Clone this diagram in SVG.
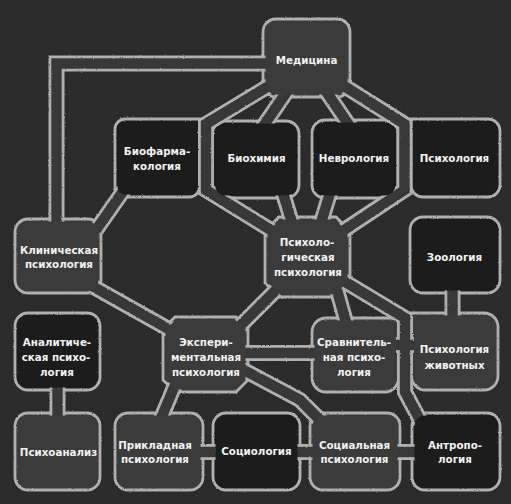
<svg xmlns="http://www.w3.org/2000/svg" xmlns:xlink="http://www.w3.org/1999/xlink" width="511" height="504" viewBox="0 0 511 504">
<style>
.bg{fill:#2a2a2a}
.light{fill:#3b3b3b;stroke:#b0b0b0;stroke-width:2.8}
.dark{fill:#1f1f1f;stroke:#b0b0b0;stroke-width:2.8}
.sh{filter:url(#chalk)}
.t{font-family:"DejaVu Sans","Liberation Sans",sans-serif;font-weight:700;font-size:10.3px;fill:#f2f2f2;text-anchor:middle}
.po{fill:none;stroke:#b0b0b0;stroke-width:16;stroke-linejoin:miter;stroke-miterlimit:8}
.pi{fill:none;stroke:#383838;stroke-width:10.4;stroke-linejoin:miter;stroke-miterlimit:8}
.mk{fill:#000;stroke:#fff;stroke-width:5}
</style>
<defs>
<filter id="chalk" x="-5%" y="-5%" width="110%" height="110%">
<feTurbulence type="fractalNoise" baseFrequency="0.75" numOctaves="2" seed="4" result="n"/>
<feDisplacementMap in="SourceGraphic" in2="n" scale="2" xChannelSelector="R" yChannelSelector="G"/>
</filter>
<filter id="grain" x="0" y="0" width="100%" height="100%">
<feTurbulence type="fractalNoise" baseFrequency="0.9" numOctaves="2" seed="7"/>
<feColorMatrix type="matrix" values="0 0 0 0 1  0 0 0 0 1  0 0 0 0 1  0.6 0 0 0 -0.25"/>
</filter>
<mask id="m-out" maskUnits="userSpaceOnUse" x="0" y="0" width="511" height="504">
<rect width="511" height="504" fill="#fff"/>
<g class="mk">
<rect x="263" y="19" width="87" height="78" rx="13"/>
<path d="M125,119 H199.5 V187 A10,10 0 0 1 189.5,197 H125 A10,10 0 0 1 115,187 V129 A10,10 0 0 1 125,119 Z"/>
<rect x="212.5" y="121" width="86.5" height="77" rx="13"/>
<rect x="312" y="120" width="86" height="78" rx="13"/>
<path d="M411,119 H488 A12,12 0 0 1 500,131 V185 A12,12 0 0 1 488,197 H423 A12,12 0 0 1 411,185 Z"/>
<rect x="15" y="219" width="86" height="74" rx="13"/>
<path d="M279,217 H336 L350,231 V283 L336,297 H279 L265,283 V231 Z"/>
<rect x="410" y="217" width="90" height="76" rx="13"/>
<rect x="15" y="313" width="85" height="77" rx="13"/>
<path d="M175,317 H236 L248,329 V380 L236,392 H175 L163,380 V329 Z"/>
<path d="M326,318 H395.5 A3,3 0 0 1 398.5,321 V378 A14,14 0 0 1 384.5,392 H326 A14,14 0 0 1 312,378 V332 A14,14 0 0 1 326,318 Z"/>
<path d="M411.5,313 H484 A14,14 0 0 1 498,327 V376 A14,14 0 0 1 484,390 H425.5 A14,14 0 0 1 411.5,376 Z"/>
<rect x="15" y="413" width="85" height="77" rx="13"/>
<rect x="115" y="413" width="88" height="77" rx="13"/>
<rect x="213" y="413" width="87" height="77" rx="13"/>
<rect x="310" y="413" width="90" height="77" rx="13"/>
<rect x="412" y="413" width="88" height="77" rx="13"/>
</g>
</mask>
</defs>
<rect class="bg" width="511" height="504"/>
<rect width="511" height="504" filter="url(#grain)" opacity="0.12"/>

<g id="n-medicina"><rect class="light sh" x="263" y="19" width="87" height="78" rx="13"/><text class="t" x="306.5" y="64">Медицина</text></g>
<g id="n-biofarm"><path class="dark sh" d="M125,119 H199.5 V187 A10,10 0 0 1 189.5,197 H125 A10,10 0 0 1 115,187 V129 A10,10 0 0 1 125,119 Z"/><text class="t"><tspan x="157" y="155">Биофарма-</tspan><tspan x="157" y="170">кология</tspan></text></g>
<g id="n-biochem"><rect class="dark sh" x="212.5" y="121" width="86.5" height="77" rx="13"/><text class="t" x="256.5" y="162">Биохимия</text></g>
<g id="n-nevro"><rect class="dark sh" x="312" y="120" width="86" height="78" rx="13"/><text class="t" x="354" y="162">Неврология</text></g>
<g id="n-psych"><path class="dark sh" d="M411,119 H488 A12,12 0 0 1 500,131 V185 A12,12 0 0 1 488,197 H423 A12,12 0 0 1 411,185 Z"/><text class="t" x="454.5" y="162">Психология</text></g>
<g id="n-klin"><rect class="light sh" x="15" y="219" width="86" height="74" rx="13"/><text class="t"><tspan x="59" y="254">Клиническая</tspan><tspan x="59" y="268">психология</tspan></text></g>
<g id="n-psyholog"><path class="light sh" d="M279,217 H336 L350,231 V283 L336,297 H279 L265,283 V231 Z"/><text class="t"><tspan x="307" y="246">Психоло-</tspan><tspan x="308" y="261">гическая</tspan><tspan x="308" y="276">психология</tspan></text></g>
<g id="n-zoo"><rect class="dark sh" x="410" y="217" width="90" height="76" rx="13"/><text class="t" x="454.5" y="261">Зоология</text></g>
<g id="n-analit"><rect class="dark sh" x="15" y="313" width="85" height="77" rx="13"/><text class="t"><tspan x="57" y="346">Аналитиче-</tspan><tspan x="56" y="361">ская психо-</tspan><tspan x="57" y="376">логия</tspan></text></g>
<g id="n-exper"><path class="light sh" d="M175,317 H236 L248,329 V380 L236,392 H175 L163,380 V329 Z"/><text class="t"><tspan x="206" y="346">Экспери-</tspan><tspan x="206" y="361">ментальная</tspan><tspan x="206" y="376">психология</tspan></text></g>
<g id="n-sravn"><path class="light sh" d="M326,318 H395.5 A3,3 0 0 1 398.5,321 V378 A14,14 0 0 1 384.5,392 H326 A14,14 0 0 1 312,378 V332 A14,14 0 0 1 326,318 Z"/><text class="t"><tspan x="354" y="346">Сравнитель-</tspan><tspan x="354" y="361">ная психо-</tspan><tspan x="354" y="376">логия</tspan></text></g>
<g id="n-zhiv"><path class="light sh" d="M411.5,313 H484 A14,14 0 0 1 498,327 V376 A14,14 0 0 1 484,390 H425.5 A14,14 0 0 1 411.5,376 Z"/><text class="t"><tspan x="454.5" y="353">Психология</tspan><tspan x="454.5" y="369">животных</tspan></text></g>
<g id="n-psychoan"><rect class="light sh" x="15" y="413" width="85" height="77" rx="13"/><text class="t" x="58.5" y="456">Психоанализ</text></g>
<g id="n-prikl"><rect class="light sh" x="115" y="413" width="88" height="77" rx="13"/><text class="t"><tspan x="155" y="449">Прикладная</tspan><tspan x="155" y="463">психология</tspan></text></g>
<g id="n-sociol"><rect class="dark sh" x="213" y="413" width="87" height="77" rx="13"/><text class="t" x="256.5" y="455">Социология</text></g>
<g id="n-social"><rect class="light sh" x="310" y="413" width="90" height="77" rx="13"/><text class="t"><tspan x="354.5" y="449">Социальная</tspan><tspan x="354.5" y="463">психология</tspan></text></g>
<g id="n-antrop"><rect class="dark sh" x="412" y="413" width="88" height="77" rx="13"/><text class="t"><tspan x="455" y="449">Антропо-</tspan><tspan x="455" y="463">логия</tspan></text></g>

<g id="connectors" mask="url(#m-out)">
<g class="po" filter="url(#chalk)">
<path id="c1" d="M270,63.5 H56.5 V228"/>
<path id="c2" d="M272,84 L206,124 V190 L274,232"/>
<path id="c3" d="M288,90 L262,128"/>
<path id="c4" d="M325,90 L351,128"/>
<path id="c5" d="M341,84 L404.5,124 V190 L341,232"/>
<path id="c6" d="M282,190 L293,226"/>
<path id="c7" d="M331,190 L320,226"/>
<path id="c8" d="M124,190 L96,230"/>
<path id="c9" d="M92,286 L172,331"/>
<path id="c10" d="M276,290 L240,326"/>
<path id="c11" d="M240,353 H320"/>
<path id="c12" d="M240,368 L300,400 L322,422"/>
<path id="c13" d="M337,290 L347,326"/>
<path id="c14" d="M342,280 L405,318 V392 L421,422"/>
<path id="c15" d="M390,345 H420"/>
<path id="c16" d="M452.5,285 V321"/>
<path id="c17" d="M57.5,383 V421"/>
<path id="c18" d="M175,385 L160,421"/>
<path id="c19" d="M195,452 H221"/>
<path id="c20" d="M292,452 H318"/>
<path id="c21" d="M392,452 H420"/>
</g>
<g class="pi" filter="url(#chalk)">
<use href="#c1"/><use href="#c2"/><use href="#c3"/><use href="#c4"/><use href="#c5"/><use href="#c6"/><use href="#c7"/>
<use href="#c8"/><use href="#c9"/><use href="#c10"/><use href="#c11"/><use href="#c12"/><use href="#c13"/><use href="#c14"/>
<use href="#c15"/><use href="#c16"/><use href="#c17"/><use href="#c18"/><use href="#c19"/><use href="#c20"/><use href="#c21"/>
</g>
</g>
</svg>
